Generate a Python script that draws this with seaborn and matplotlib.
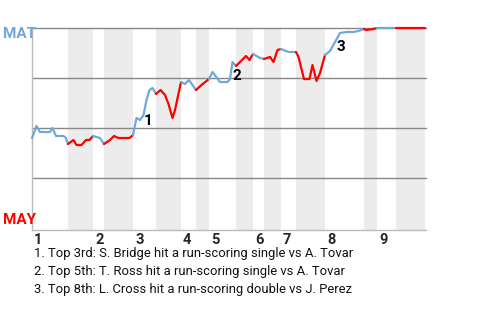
import matplotlib
matplotlib.use("Agg")
import matplotlib.pyplot as plt
import seaborn as sns
import pandas as pd
import numpy as np

# ---- data (x = game progress in plate-appearance units, p = MAT win probability) ----
pa = [0.0, 0.9, 1.6, 3.6, 4.1, 4.8, 6.3, 6.8, 7.2, 8.3, 8.9, 9.9, 10.8, 11.5, 12.2,
      13.6, 14.4, 15.6, 16.4, 17.3, 19.5, 20.2, 20.9, 21.6, 22.3, 22.9, 23.5, 24.1,
      24.8, 25.7, 26.6, 27.3, 28.1, 28.6, 29.8, 30.6, 31.4, 32.8, 33.9, 35.4, 36.1,
      37.6, 39.1, 39.6, 40.1, 40.8, 41.6, 42.8, 43.5, 44.2, 45.6, 46.4, 47.6, 48.3,
      49.1, 49.8, 51.3, 52.8, 53.3, 54.4, 55.5, 56.1, 56.9, 57.6, 58.6, 59.6, 60.6,
      61.6, 62.9, 64.3, 65.3, 66.4, 66.8, 68.3, 69.0, 72.8, 78.6]
mat_wp = [0.45, 0.51, 0.48, 0.48, 0.50, 0.46, 0.46, 0.45, 0.42, 0.44, 0.415, 0.415,
          0.44, 0.44, 0.46, 0.45, 0.42, 0.44, 0.46, 0.45, 0.45, 0.465, 0.55, 0.54,
          0.565, 0.64, 0.69, 0.70, 0.67, 0.69, 0.665, 0.62, 0.55, 0.59, 0.73, 0.72,
          0.74, 0.69, 0.715, 0.745, 0.78, 0.73, 0.73, 0.745, 0.83, 0.81, 0.83, 0.86,
          0.84, 0.87, 0.85, 0.845, 0.855, 0.83, 0.89, 0.895, 0.88, 0.88, 0.855, 0.745,
          0.745, 0.815, 0.735, 0.775, 0.865, 0.885, 0.93, 0.975, 0.98, 0.98, 0.985,
          0.995, 0.99, 0.995, 1.0, 1.0, 1.0]

top_start = [0.0, 12.2, 20.2, 29.8, 35.4, 44.2, 49.8, 58.6, 69.0]
bot_start = [7.2, 14.4, 24.8, 32.8, 40.8, 46.4, 52.8, 66.4, 72.8]
game_end = 78.6
innings = ["1", "2", "3", "4", "5", "6", "7", "8", "9"]

event_labels = ["1", "2", "3"]
event_pa = [23.2, 41.0, 61.8]
event_wp = [0.535, 0.76, 0.905]

notes = ["1. Top 3rd: S. Bridge hit a run-scoring single vs A. Tovar",
         "2. Top 5th: T. Ross hit a run-scoring single vs A. Tovar",
         "3. Top 8th: L. Cross hit a run-scoring double vs J. Perez"]

BLUE = "#6fa8dc"
RED = "#ff0000"
NARROW = ["Liberation Sans Narrow", "Roboto", "DejaVu Sans"]

sns.set_style("white")
plt.rcParams["font.family"] = ["Roboto", "DejaVu Sans"]

fig = plt.figure(figsize=(4.8, 3.2), dpi=100)
ax = fig.add_axes([32 / 480, 90 / 320, 394 / 480, 202 / 320])

# half-inning segments
bounds = sorted([(s, "top") for s in top_start] + [(s, "bot") for s in bot_start])
rows = []
pa_arr = np.array(pa)
wp_arr = np.array(mat_wp)
for i, (s, half) in enumerate(bounds):
    e = bounds[i + 1][0] if i + 1 < len(bounds) else game_end
    m = (pa_arr >= s - 1e-9) & (pa_arr <= e + 1e-9)
    for x, y in zip(pa_arr[m], wp_arr[m]):
        rows.append({"pa": x, "wp": y, "seg": f"s{i}", "half": half})
    if half == "bot":
        ax.axvspan(s, e, color="#ececec", lw=0, zorder=0)
df = pd.DataFrame(rows)
palette = {f"s{i}": (BLUE if h == "top" else RED) for i, (s, h) in enumerate(bounds)}

for y in [1.0, 0.75, 0.5, 0.25]:
    ax.axhline(y, color="#888888", lw=1.0, zorder=1, clip_on=False)

sns.lineplot(data=df, x="pa", y="wp", hue="seg", palette=palette, estimator=None,
             sort=False, units="seg", legend=False, lw=1.6, ax=ax, zorder=3)
for l in ax.lines:
    l.set_clip_on(False)

ax.set_xlim(0, 78.8)
ax.set_ylim(-0.01, 1.0)
ax.set_xticks([])
ax.set_yticks([])
ax.set_xlabel("")
ax.set_ylabel("")
for side in ["top", "right"]:
    ax.spines[side].set_visible(False)
for side in ["left", "bottom"]:
    ax.spines[side].set_color("#bbbbbb")
    ax.spines[side].set_linewidth(1.0)

for lab, x, y in zip(event_labels, event_pa, event_wp):
    ax.text(x, y, lab, ha="center", va="center", fontsize=11, fontweight="bold",
            color="black", zorder=4, family=NARROW)

for lab, s in zip(innings, top_start):
    ax.annotate(lab, xy=(s, 0), xycoords=("data", "axes fraction"),
                xytext=(1.5, -2.5), textcoords="offset points",
                ha="left", va="top", fontsize=10.5, fontweight="bold", family=NARROW)

fig.text(3 / 480, 1 - 34.5 / 320, "MAT", color=BLUE, fontsize=11, fontweight="bold",
         va="center", ha="left", family=NARROW)
fig.text(3 / 480, 1 - 220 / 320, "MAY", color=RED, fontsize=11, fontweight="bold",
         va="center", ha="left", family=NARROW)

for i, n in enumerate(notes):
    fig.text(34 / 480, 1 - (254 + 17.5 * i) / 320, n, fontsize=9.4,
             family=NARROW, va="center", ha="left", color="#111111")

fig.savefig("out.png", dpi=100)
